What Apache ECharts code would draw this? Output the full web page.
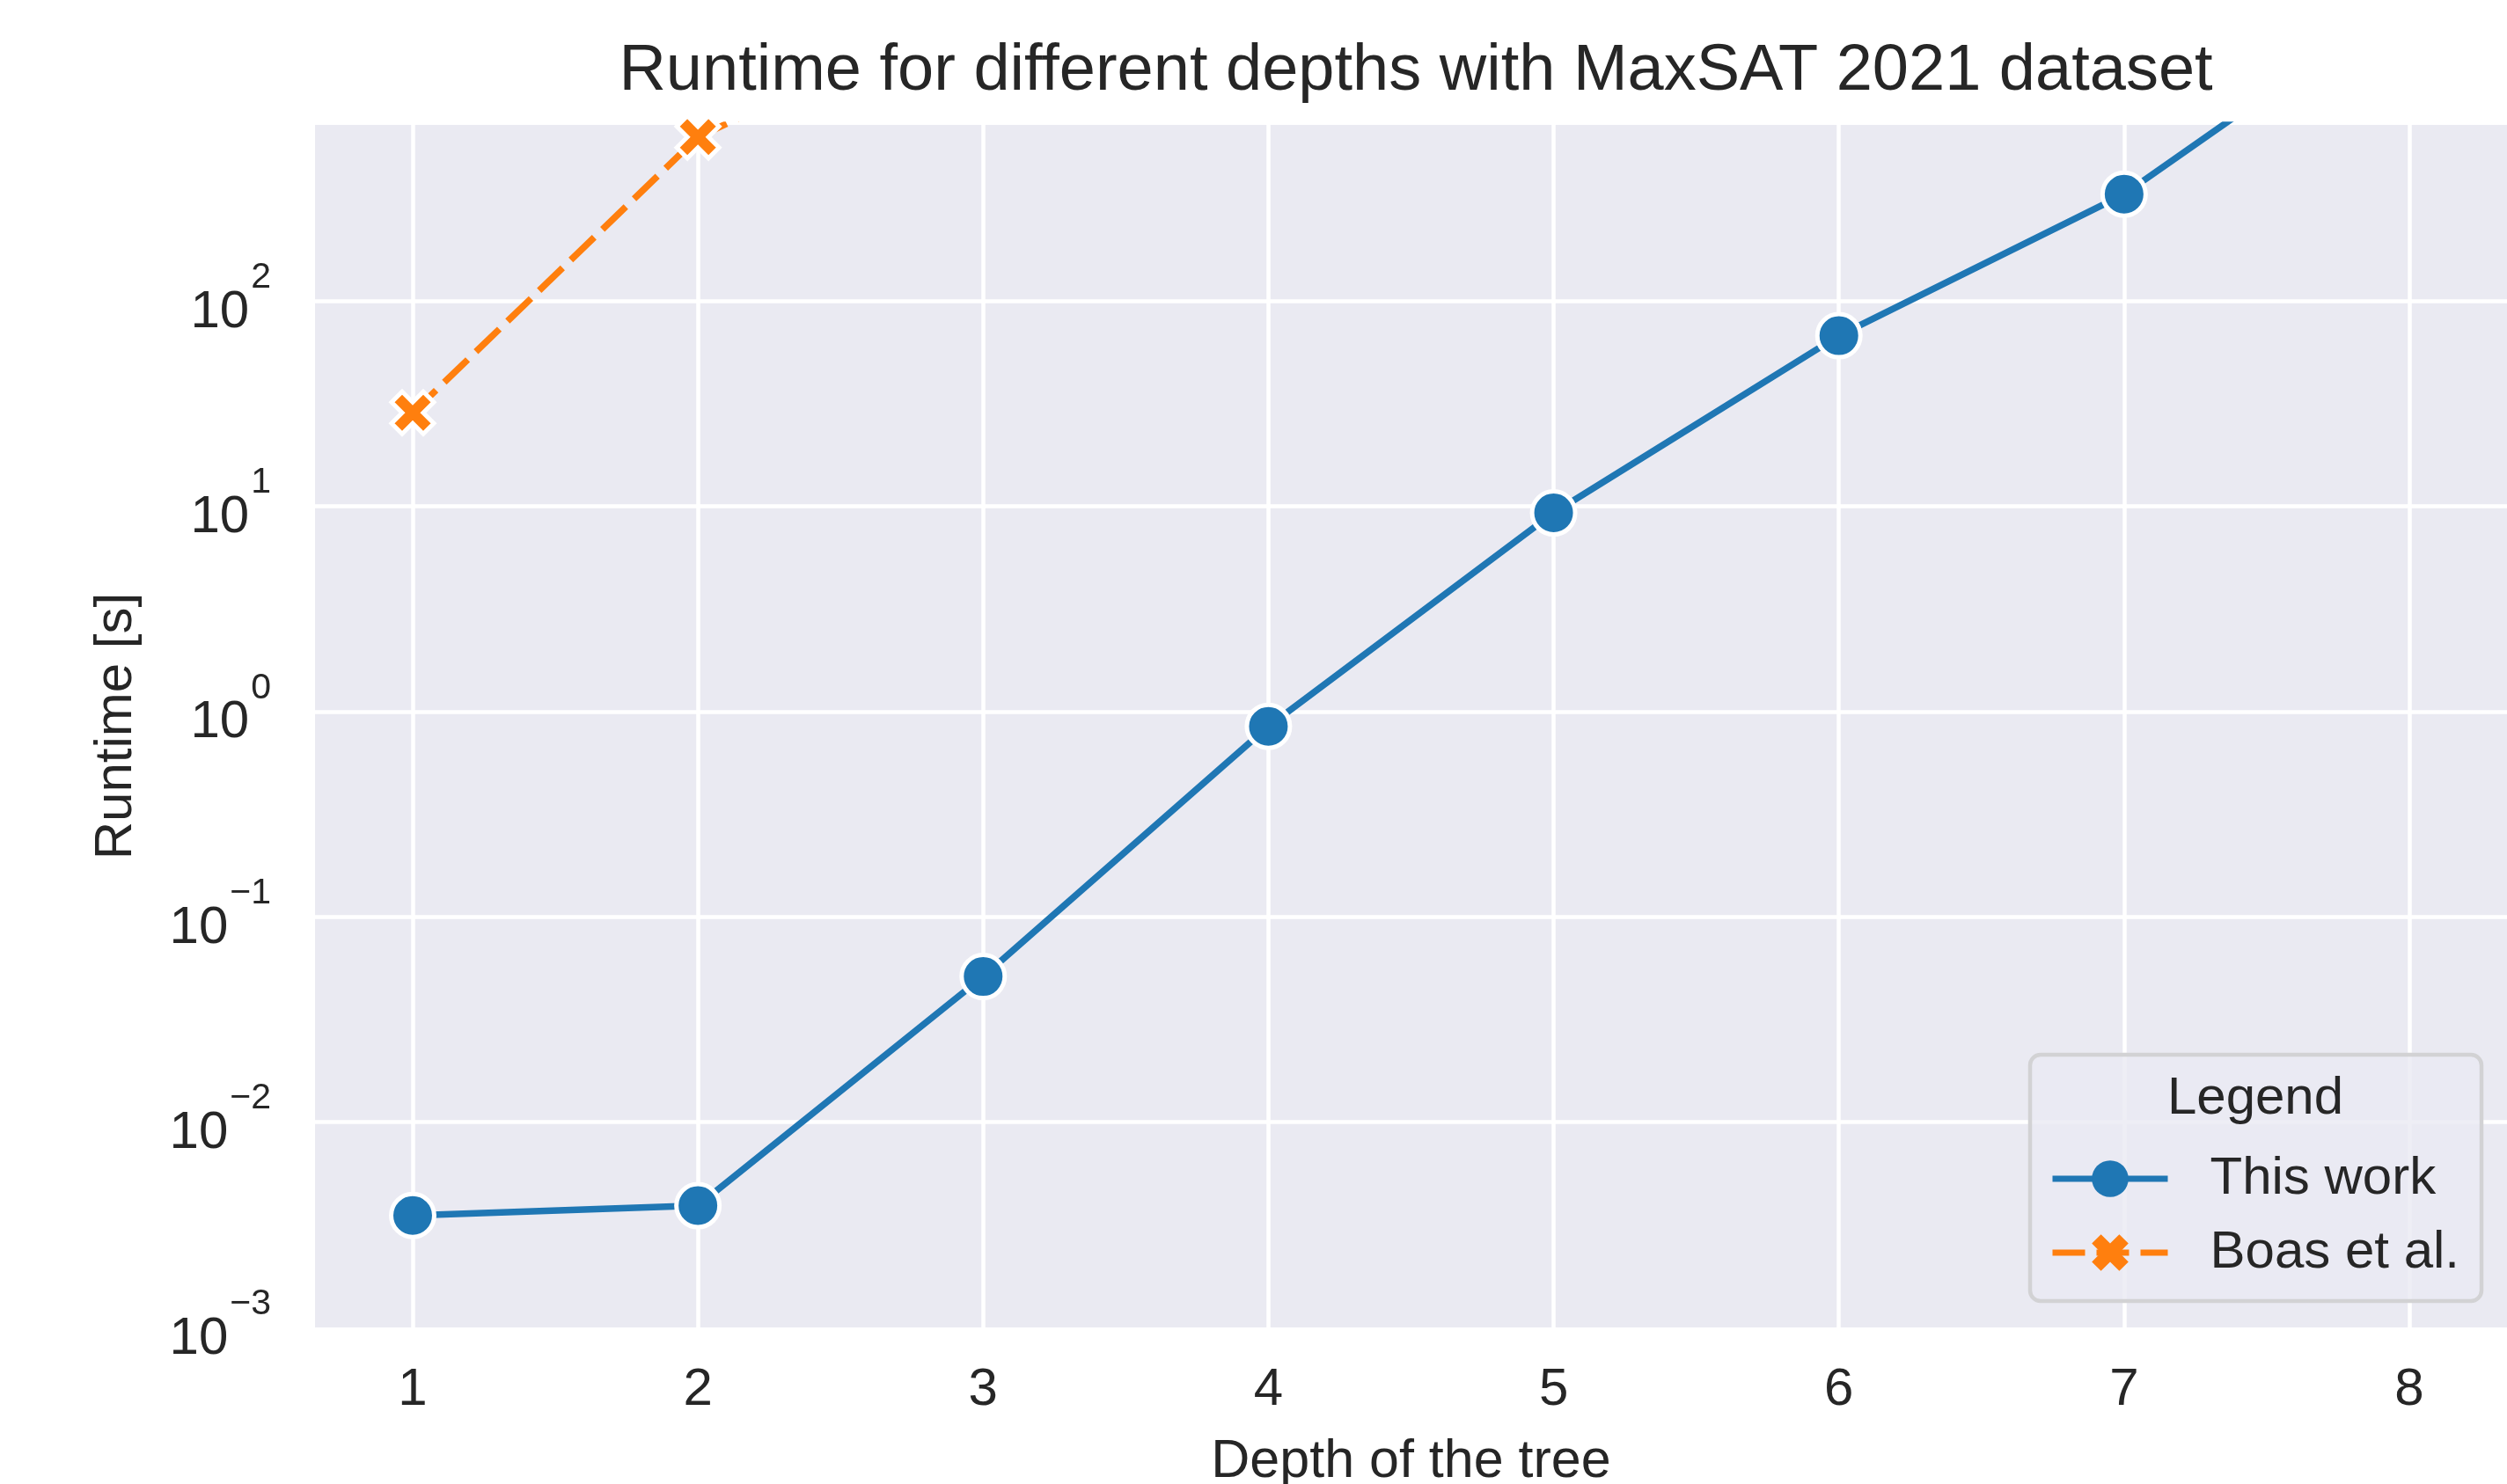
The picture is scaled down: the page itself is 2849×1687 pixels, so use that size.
<!DOCTYPE html>
<html>
<head>
<meta charset="utf-8">
<script src="https://cdn.jsdelivr.net/npm/echarts@6/dist/echarts.min.js"></script>
<style>
html,body{margin:0;padding:0;background:#fff;}
#chart{width:2849px;height:1687px;}
</style>
</head>
<body>
<div id="chart"></div>
<script>
// ---- data ----
const depths = [1, 2, 3, 4, 5, 6, 7, 8];
const thisWork = [0.00351, 0.00392, 0.0512, 0.847, 9.28, 67.7, 331, 3100];
const boasDepths = [1, 2, 3];
const boas = [28.5, 628, 2800];
const xTicks = [1, 2, 3, 4, 5, 6, 7, 8];
const yTickExponents = [-3, -2, -1, 0, 1, 2];
const seriesNames = ['This work', 'Boas et al.'];
const titleText = 'Runtime for different depths with MaxSAT 2021 dataset';
const xName = 'Depth of the tree';
const yName = 'Runtime [s]';
const legendTitle = 'Legend';

const FONT = "'Liberation Sans', Arial, sans-serif";
const TXT = '#262626';
const X_PATH = 'path://M2.5,0L5,2.5L7.5,0L10,2.5L7.5,5L10,7.5L7.5,10L5,7.5L2.5,10L0,7.5L2.5,5L0,2.5Z';

const chart = echarts.init(document.getElementById('chart'), null, {renderer: 'canvas'});

function yLabel(v) {
  const e = Math.log10(v);
  const r = Math.round(e);
  if (Math.abs(e - r) > 1e-4 || yTickExponents.indexOf(r) < 0) return '';
  const s = r < 0 ? '\u2212' + (-r) : String(r);
  return '{b|10}{s|' + s + '}';
}

const option = {
  animation: false,
  backgroundColor: '#ffffff',
  title: {
    text: titleText,
    left: 1604,
    top: 40,
    textAlign: 'center',
    textStyle: {fontFamily: FONT, fontSize: 74, fontWeight: 'normal', color: TXT}
  },
  grid: {
    left: 358, top: 142, right: 0, bottom: 178,
    show: true, backgroundColor: '#EAEAF2', borderWidth: 0,
    containLabel: false,
    outerBoundsMode: 'none'
  },
  xAxis: {
    type: 'value',
    min: 0.6576, max: 8.3424,
    minInterval: 1, maxInterval: 1,
    name: xName,
    nameLocation: 'middle',
    nameGap: 123,
    nameTextStyle: {fontFamily: FONT, fontSize: 61, color: TXT},
    axisLine: {show: false},
    axisTick: {show: false},
    axisLabel: {
      fontFamily: FONT, fontSize: 60, color: TXT, margin: 41,
      showMinLabel: false, showMaxLabel: false,
      formatter: v => (xTicks.indexOf(v) >= 0 ? String(v) : '')
    },
    splitLine: {show: true, showMinLine: false, showMaxLine: false,
      lineStyle: {color: '#ffffff', width: 4.5}}
  },
  yAxis: {
    type: 'log',
    logBase: 10,
    min: 0.001, max: 720,
    name: yName,
    nameLocation: 'middle',
    nameGap: 196,
    nameTextStyle: {fontFamily: FONT, fontSize: 60, color: TXT},
    axisLine: {show: false},
    axisTick: {show: false},
    axisLabel: {
      margin: 50,
      formatter: yLabel,
      rich: {
        b: {fontFamily: FONT, fontSize: 60, color: TXT, padding: [26, 0, 0, 0]},
        s: {fontFamily: FONT, fontSize: 41, color: TXT, padding: [0, 0, 53, 2]}
      }
    },
    splitLine: {show: true, showMinLine: false, showMaxLine: false,
      lineStyle: {color: '#ffffff', width: 4.5}}
  },
  legend: {
    orient: 'vertical',
    left: 2307, top: 1199,
    padding: [111, 25, 25, 22],
    itemWidth: 131, itemHeight: 52, itemGap: 24,
    backgroundColor: 'rgba(234,234,242,0.8)',
    borderColor: '#d2d2d4', borderWidth: 4.5, borderRadius: 12,
    itemStyle: {borderWidth: 0},
    lineStyle: {width: 7},
    textStyle: {fontFamily: FONT, fontSize: 60, color: TXT, lineHeight: 52, padding: [0, 0, 0, 43]},
    data: seriesNames
  },
  graphic: [{
    type: 'text', x: 2563, y: 1249, z: 100,
    style: {text: legendTitle, fontFamily: FONT, fontSize: 60, fill: TXT, align: 'center', verticalAlign: 'middle'}
  }],
  series: [
    {
      name: seriesNames[0],
      type: 'line',
      data: depths.map((d, i) => [d, thisWork[i]]),
      symbol: 'circle', symbolSize: 49,
      itemStyle: {color: '#1f77b4', borderColor: '#ffffff', borderWidth: 5},
      lineStyle: {color: '#1f77b4', width: 7.5},
      z: 3
    },
    {
      name: seriesNames[1],
      type: 'line',
      data: boasDepths.map((d, i) => [d, boas[i]]),
      symbol: X_PATH, symbolSize: 48,
      itemStyle: {color: '#ff7f0e', borderColor: '#ffffff', borderWidth: 5},
      lineStyle: {color: '#ff7f0e', width: 7.5, type: [37, 13]},
      z: 2
    }
  ]
};
chart.setOption(option);
</script>
</body>
</html>
